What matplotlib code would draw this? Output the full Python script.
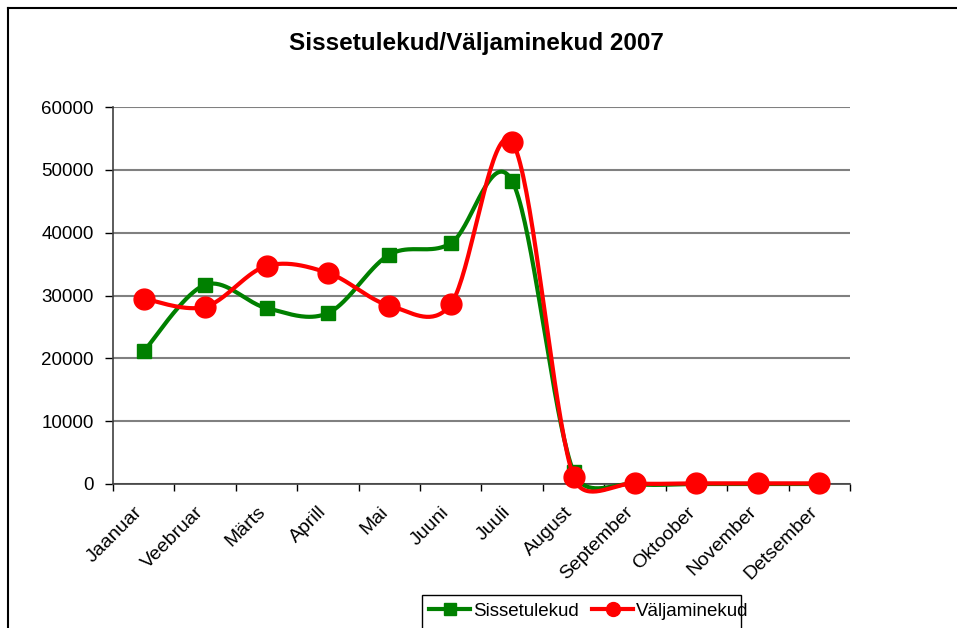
import numpy as np
import matplotlib
matplotlib.use('Agg')
import matplotlib.pyplot as plt
import matplotlib.transforms as mtransforms
from matplotlib.lines import Line2D
from matplotlib.patches import Rectangle

plt.rcParams['font.family'] = ['Liberation Sans', 'DejaVu Sans']

months = ['Jaanuar', 'Veebruar', 'Märts', 'Aprill', 'Mai', 'Juuni', 'Juuli',
          'August', 'September', 'Oktoober', 'November', 'Detsember']
sissetulekud = [21100, 31700, 28000, 27200, 36500, 38300, 48200, 1900, 0, 0, 0, 0]
valjaminekud = [29500, 28200, 34700, 33600, 28400, 28600, 54400, 1100, 100, 100, 100, 100]
title = 'Sissetulekud/Väljaminekud 2007'

W, H = 957, 628
fig = plt.figure(figsize=(W / 100, H / 100), dpi=100)
ax = fig.add_axes([113 / W, 1 - 484 / H, (850 - 113) / W, (484 - 107) / H])
ax.set_xlim(-0.5, 11.5)
ax.set_ylim(0, 60000)


def smooth(x, y, n=40):
    # excel-like smoothed line: catmull-rom bezier in screen pixels,
    # control arm never longer than half of its segment
    pts = ax.transData.transform(np.column_stack([x, y]).astype(float))
    m = len(pts)
    out = [pts[:1]]
    t = np.linspace(0, 1, n)[1:, None]
    for i in range(m - 1):
        p1, p2 = pts[i], pts[i + 1]
        p0 = pts[i - 1] if i > 0 else p1
        p3 = pts[i + 2] if i + 2 < m else p2
        seg = np.linalg.norm(p2 - p1)
        arm1 = (p2 - p0) / 6
        arm2 = (p3 - p1) / 6
        for arm in (arm1, arm2):
            la = np.linalg.norm(arm)
            if la > seg / 2:
                arm *= seg / 2 / la
        c1 = p1 + arm1
        c2 = p2 - arm2
        out.append((1 - t) ** 3 * p1 + 3 * (1 - t) ** 2 * t * c1
                   + 3 * (1 - t) * t ** 2 * c2 + t ** 3 * p2)
    curve = ax.transData.inverted().transform(np.vstack(out))
    return curve[:, 0], curve[:, 1]


x = np.arange(len(months))
green = '#008000'
red = '#ff0000'

gx, gy = smooth(x, sissetulekud)
rx, ry = smooth(x, valjaminekud)
ax.plot(gx, gy, color=green, lw=3, zorder=3, clip_on=False)
ax.plot(x, sissetulekud, ls='none', marker='s', ms=10.5, color=green, zorder=4,
        clip_on=False)
ax.plot(rx, ry, color=red, lw=3, zorder=5, clip_on=False)
ax.plot(x, valjaminekud, ls='none', marker='o', ms=15, color=red, zorder=6,
        clip_on=False)

ax.set_yticks(range(0, 60001, 10000))
ax.set_yticklabels([str(v) for v in range(0, 60001, 10000)], fontsize=13.5)
ax.yaxis.grid(True, color='#808080', lw=1.5)
ax.set_axisbelow(True)

ax.set_xticks(np.arange(-0.5, 12, 1))
ax.set_xticklabels([])
ax.set_xticks(x, minor=True)
ax.set_xticklabels(months, minor=True, rotation=45, ha='right', va='top',
                   rotation_mode='anchor', fontsize=14)
ax.tick_params(axis='x', which='minor', length=0, pad=14)
ax.tick_params(axis='x', which='major', length=5, width=1, direction='out')
ax.tick_params(axis='y', length=6, width=1, direction='out', pad=8)
shift = mtransforms.ScaledTranslation(-10 / 100, 0, fig.dpi_scale_trans)
for lab in ax.get_xticklabels(minor=True):
    lab.set_transform(lab.get_transform() + shift)

for s in ['top', 'right']:
    ax.spines[s].set_visible(False)
for s in ['left', 'bottom']:
    ax.spines[s].set_color('#404040')
    ax.spines[s].set_linewidth(1.2)

fig.text(476 / W, 1 - 50 / H, title, ha='center', va='baseline',
         fontsize=17.5, fontweight='bold')

# outer chart border (cut off on the right and bottom)
fig.add_artist(Line2D([8 / W, 8 / W], [0, 1 - 8 / H], color='black', lw=1.5,
                      transform=fig.transFigure))
fig.add_artist(Line2D([8 / W, 1], [1 - 8 / H, 1 - 8 / H], color='black', lw=1.5,
                      transform=fig.transFigure))

# legend box
fig.add_artist(Rectangle((422 / W, -0.05), (741 - 422) / W, 0.05 + (628 - 595) / H,
                         transform=fig.transFigure, fill=False, ec='black', lw=1))
handles = [Line2D([], [], color=green, lw=3, marker='s', ms=8),
           Line2D([], [], color=red, lw=3, marker='o', ms=10)]
fig.legend(handles, ['Sissetulekud', 'Väljaminekud'], loc='center left',
           bbox_to_anchor=(429 / W, 1 - 611 / H), ncol=2, frameon=False,
           fontsize=13.5, handlelength=2.2, handletextpad=0.15,
           columnspacing=0.7, borderpad=0, borderaxespad=0)

fig.savefig('out.png', dpi=100)
